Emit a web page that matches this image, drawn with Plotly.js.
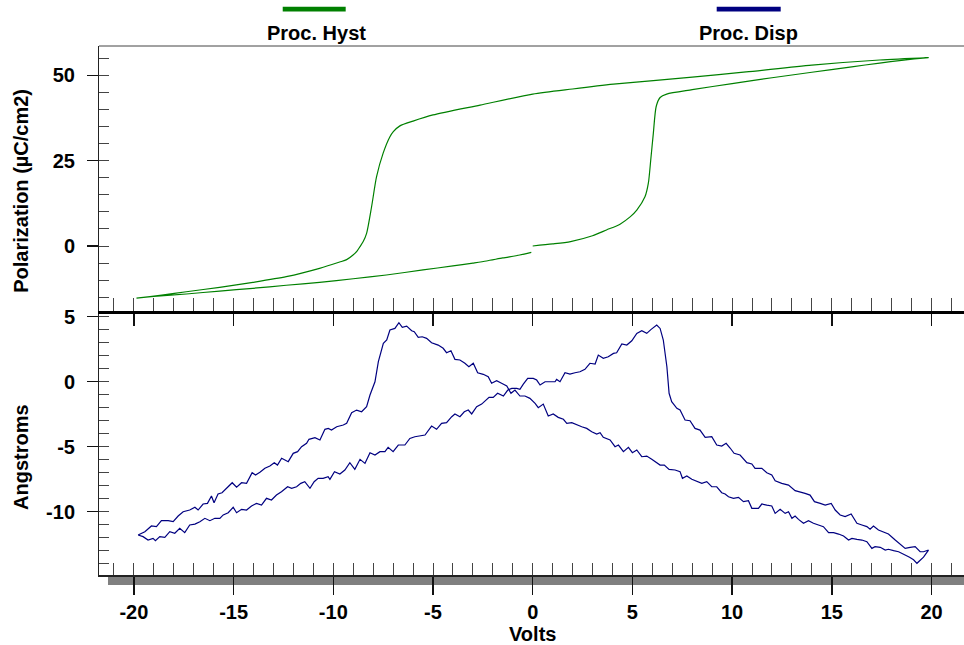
<!DOCTYPE html>
<html>
<head>
<meta charset="utf-8">
<script src="https://cdn.plot.ly/plotly-3.0.1.min.js"></script>
<style>html,body{margin:0;padding:0;background:#fff;}#chart{width:964px;height:645px;}</style>
</head>
<body>
<div id="chart"></div>
<script>
// ---- Polarization (Proc. Hyst) : 0 -> +20 -> -20 -> 0 ----
const hystUpV   = [0, 1, 1.9, 3, 3.7, 4.38, 4.9, 5.22, 5.63, 5.8, 5.92, 6.05, 6.19, 6.39, 6.72, 8, 10, 12, 14, 16, 17.4, 18.5, 19.85];
const hystUpP   = [0, 0.6, 1.3, 3.0, 4.7, 6.4, 8.6, 10.5, 14.4, 18.4, 25.2, 33, 40.8, 43.5, 44.5, 45.8, 47.6, 49.3, 50.9, 52.5, 53.6, 54.4, 55.2];
const hystDownV = [19.85, 17.4, 14, 10.7, 8, 4.05, 2, 0, -2.64, -5, -6, -6.66, -6.99, -7.16, -7.5, -7.83, -8.08, -8.33, -8.5, -8.65, -8.8, -9.01, -9.33, -9.68, -10.69, -12.36, -14.03, -15.7, -17.37, -18.6, -19.87];
const hystDownP = [55.2, 54.5, 53, 51, 49.5, 47.4, 46, 44.5, 41.3, 38.4, 36.6, 35.2, 33.5, 32, 27.2, 20.3, 11.5, 3.7, 1.3, -0.1, -1.4, -2.64, -4.0, -4.7, -6.55, -8.99, -10.65, -12.1, -13.4, -14.4, -15.3];
const hystBackV = [-19.87, -19.0, -17.37, -15.7, -14.03, -12.36, -10.69, -9, -7.34, -5.5, -4.0, -3, -2.32, -1.5, -0.65, -0.07];
const hystBackP = [-15.3, -14.8, -14.06, -13.2, -12.4, -11.5, -10.65, -9.6, -8.5, -7.0, -5.85, -5.0, -4.4, -3.5, -2.64, -1.85];

// ---- Displacement (Proc. Disp) : sweep up (-20 -> +20) ----
const dispUpV = [-19.79,-19.54,-19.29,-19.04,-18.92,-18.7,-18.45,-18.2,-17.95,-17.7,-17.45,-17.2,-16.94,-16.69,-16.44,-16.19,-15.94,-15.69,-15.52,-15.27,-15.02,-14.85,-14.6,-14.35,-14.1,-13.85,-13.6,-13.35,-13.1,-12.85,-12.6,-12.29,-12.09,-11.84,-11.63,-11.43,-11.17,-10.96,-10.76,-10.51,-10.26,-10.17,-9.94,-9.67,-9.42,-9.17,-8.92,-8.66,-8.41,-8.16,-7.91,-7.66,-7.41,-7.25,-7.0,-6.74,-6.41,-6.16,-5.91,-5.65,-5.4,-5.07,-4.82,-4.57,-4.32,-4.06,-3.9,-3.65,-3.43,-3.23,-3.06,-2.81,-2.56,-2.19,-1.98,-1.76,-1.47,-1.25,-1.05,-0.8,-0.64,-0.47,-0.25,0.03,0.2,0.37,0.62,0.87,1.12,1.2,1.37,1.62,1.87,2.12,2.37,2.62,2.87,3.13,3.29,3.54,3.79,4.05,4.21,4.47,4.72,4.97,5.22,5.47,5.72,5.94,6.22,6.39,6.55,6.73,6.84,6.97,7.23,7.39,7.64,7.89,8.14,8.39,8.65,8.98,9.23,9.48,9.7,9.9,10.1,10.4,10.74,10.99,11.15,11.49,11.74,11.99,12.16,12.49,12.83,13.16,13.41,13.66,13.91,14.13,14.42,14.67,14.97,15.17,15.42,15.67,15.97,16.26,16.51,16.76,16.92,17.09,17.34,17.59,17.84,18.18,18.43,18.68,18.93,19.18,19.43,19.6,19.85];
const dispUpD = [-11.79,-11.92,-12.18,-12.05,-12.23,-11.92,-11.97,-11.54,-11.66,-11.28,-11.61,-11.02,-10.95,-10.77,-10.51,-10.69,-10.51,-10.51,-10.25,-10.08,-9.66,-10.08,-9.82,-9.87,-9.56,-9.36,-9.49,-8.97,-9.1,-8.72,-8.46,-8.08,-8.2,-8.08,-7.82,-7.69,-8.2,-7.69,-7.43,-7.43,-7.31,-7.51,-6.92,-7.1,-6.79,-6.23,-6.74,-5.97,-6.28,-5.46,-5.64,-5.38,-5.38,-5.05,-5.38,-4.87,-4.87,-4.36,-4.23,-4.18,-4.1,-3.41,-3.66,-3.2,-3.15,-2.69,-2.48,-2.69,-2.31,-2.18,-2.48,-1.92,-1.72,-1.2,-1.2,-0.89,-1.1,-0.64,-0.51,-0.51,-0.59,-0.18,0.26,0.26,0.13,-0.25,0,0,0,0.18,0,0.69,0.59,0.69,0.77,0.95,1.42,1.36,2.05,1.8,1.92,2.18,2.23,2.9,2.82,3.15,3.72,3.92,3.72,4.03,4.36,4.1,3.21,1.15,-0.89,-1.54,-2.05,-2.18,-2.95,-3.0,-3.59,-3.72,-4.28,-4.23,-4.87,-4.95,-4.74,-5.1,-5.51,-5.64,-6.23,-6.33,-6.66,-6.66,-7.0,-7.18,-7.62,-7.82,-7.95,-8.38,-8.46,-8.59,-8.72,-9.23,-9.36,-9.49,-9.36,-9.87,-10.25,-10.38,-10.18,-10.89,-11.02,-11.15,-11.35,-11.1,-11.41,-11.54,-11.72,-12.18,-12.48,-12.82,-12.74,-12.69,-13.08,-13.08,-12.95];

// ---- Displacement : sweep down (+20 -> -20) ----
const dispDownV = [19.85,19.6,19.27,19.1,18.9,18.77,18.52,18.35,18.1,17.84,17.68,17.43,17.17,17.01,16.76,16.51,16.26,16.01,15.84,15.59,15.34,15.09,14.84,14.58,14.33,14.08,13.83,13.58,13.33,13.16,13.0,12.83,12.66,12.41,12.16,11.99,11.74,11.49,11.32,10.99,10.82,10.57,10.32,10.07,9.82,9.65,9.48,9.23,8.98,8.73,8.48,8.23,7.98,7.73,7.51,7.39,7.14,6.84,6.6,6.39,6.17,5.97,5.72,5.47,5.22,5.0,4.8,4.55,4.3,4.13,3.88,3.54,3.38,3.21,2.96,2.71,2.46,2.21,1.96,1.71,1.54,1.28,1.03,0.78,0.53,0.28,0.12,-0.14,-0.39,-0.64,-0.89,-1.09,-1.3,-1.56,-1.81,-2.06,-2.23,-2.48,-2.76,-2.98,-3.2,-3.4,-3.65,-3.9,-4.1,-4.32,-4.49,-4.74,-5.07,-5.32,-5.54,-5.74,-5.94,-6.07,-6.32,-6.54,-6.71,-6.91,-7.16,-7.32,-7.49,-7.74,-7.91,-8.16,-8.33,-8.58,-8.83,-9.08,-9.33,-9.5,-9.83,-10.09,-10.25,-10.42,-10.67,-10.92,-11.22,-11.34,-11.59,-11.79,-12.01,-12.26,-12.59,-12.8,-12.96,-13.18,-13.43,-13.68,-13.9,-14.07,-14.35,-14.6,-14.85,-15.07,-15.36,-15.58,-15.78,-15.98,-16.11,-16.31,-16.53,-16.78,-16.94,-17.2,-17.53,-17.78,-18.03,-18.28,-18.62,-18.87,-19.12,-19.45,-19.79];
const dispDownD = [-12.95,-13.5,-13.97,-13.7,-13.51,-13.41,-13.2,-13.08,-13.0,-12.89,-12.95,-12.74,-12.69,-12.82,-12.31,-12.18,-12.13,-12.05,-12.18,-11.87,-11.72,-11.61,-11.61,-11.15,-11.02,-10.89,-10.69,-10.89,-10.59,-10.33,-10.51,-10.0,-10.13,-9.82,-10.13,-9.56,-9.49,-9.41,-9.74,-9.74,-9.15,-9.23,-8.9,-8.97,-8.85,-8.64,-8.54,-8.08,-8.08,-7.69,-7.82,-7.69,-7.51,-7.25,-7.43,-6.92,-6.79,-6.74,-6.41,-6.41,-6.15,-5.97,-5.72,-5.77,-5.25,-5.46,-5.05,-5.38,-4.87,-5.0,-4.48,-4.28,-3.92,-4.02,-3.85,-3.59,-3.46,-3.33,-3.15,-3.2,-2.89,-2.74,-2.48,-2.64,-1.72,-2.0,-1.66,-1.28,-1.1,-1.1,-0.64,-0.89,-0.33,-0.12,0.08,-0.12,0.38,0.57,0.69,1.42,1.15,1.42,1.67,1.72,2.38,2.23,2.57,2.82,3.0,3.34,3.46,3.41,3.85,3.92,4.28,4.18,4.54,4.1,3.98,3.21,2.95,1.54,0,-1.02,-1.92,-2.31,-2.18,-2.38,-3.2,-3.33,-3.46,-3.72,-3.59,-3.66,-4.48,-4.31,-4.43,-4.74,-5.0,-5.38,-5.51,-6.15,-5.89,-6.41,-6.23,-6.48,-6.66,-6.97,-7.18,-7.0,-7.82,-7.77,-8.12,-7.77,-8.2,-8.54,-8.64,-9.31,-8.79,-9.36,-9.41,-9.87,-9.66,-9.87,-10.0,-10.33,-10.77,-10.69,-10.69,-11.15,-11.1,-11.54,-11.79];

// ---- Axis ticks / labels ----
const voltTicks = [-20, -15, -10, -5, 0, 5, 10, 15, 20];
const voltLabels = ['-20', '-15', '-10', '-5', '0', '5', '10', '15', '20'];
const polTicks = [0, 25, 50];
const polLabels = ['0', '25', '50'];
const angTicks = [-10, -5, 0, 5];
const angLabels = ['-10', '-5', '0', '5'];
const seriesNames = ['Proc. Hyst', 'Proc. Disp'];
const seriesColors = ['#008000', '#000080'];

const xRange = [-21.75, 21.63];
const polRange = [-18.9, 58.6];
const angRange = [-14.87, 5.48];

const FONT = 'Liberation Sans, Arial, Helvetica, sans-serif';
const tickFont = {family: FONT, size: 20, color: '#000', weight: 700};

const hystTrace = {
  x: hystUpV.concat(hystDownV, hystBackV),
  y: hystUpP.concat(hystDownP, hystBackP),
  xaxis: 'x2', yaxis: 'y', type: 'scatter', mode: 'lines',
  line: {color: seriesColors[0], width: 1.2, shape: 'spline', smoothing: 0.7}, name: seriesNames[0], showlegend: false, hoverinfo: 'skip'
};
const dispTrace = {
  x: dispUpV.concat(dispDownV),
  y: dispUpD.concat(dispDownD),
  xaxis: 'x', yaxis: 'y2', type: 'scatter', mode: 'lines',
  line: {color: seriesColors[1], width: 1.2}, name: seriesNames[1], showlegend: false, hoverinfo: 'skip'
};

const noGrid = {showgrid: false, zeroline: false};
const minorX = {ticks: 'inside', tickmode: 'linear', tick0: 0, dtick: 1, ticklen: 12, tickwidth: 1, tickcolor: '#444', showgrid: false};

const layout = {
  width: 964, height: 645,
  margin: {l: 99, r: 0, t: 46, b: 70, pad: 0},
  paper_bgcolor: '#fff', plot_bgcolor: 'rgba(0,0,0,0)',
  showlegend: false,
  xaxis: Object.assign({}, noGrid, {
    anchor: 'y2', range: xRange, domain: [0, 1],
    showline: true, linecolor: '#222', linewidth: 1.5,
    ticks: 'outside', ticklen: 18, tickwidth: 1.5, tickcolor: '#111',
    tickmode: 'array', tickvals: voltTicks, ticktext: voltLabels,
    tickfont: tickFont, ticklabelstandoff: 0,
    minor: minorX
  }),
  xaxis2: Object.assign({}, noGrid, {
    anchor: 'y', range: xRange, domain: [0, 1],
    showline: true, linecolor: '#000', linewidth: 3.5,
    ticks: 'outside', ticklen: 12, tickwidth: 1.5, tickcolor: '#111',
    tickmode: 'linear', tick0: 0, dtick: 5, showticklabels: false,
    minor: Object.assign({}, minorX, {ticklen: 13})
  }),
  xaxis3: Object.assign({}, noGrid, {
    overlaying: 'x', anchor: 'y2', side: 'bottom', range: xRange,
    showline: false, ticks: 'inside', ticklen: 12, tickwidth: 1.5, tickcolor: '#111',
    tickmode: 'linear', tick0: 0, dtick: 5, showticklabels: false
  }),
  xaxis4: Object.assign({}, noGrid, {
    overlaying: 'x2', anchor: 'y', side: 'bottom', range: xRange,
    showline: false, ticks: 'inside', ticklen: 13, tickwidth: 1.5, tickcolor: '#111',
    tickmode: 'linear', tick0: 0, dtick: 5, showticklabels: false
  }),
  yaxis: Object.assign({}, noGrid, {
    anchor: 'x2', domain: [0.5, 1], range: polRange,
    showline: true, linecolor: '#222', linewidth: 1,
    ticks: 'outside', ticklen: 11, tickwidth: 1.5, tickcolor: '#111',
    tickmode: 'array', tickvals: polTicks, ticktext: polLabels,
    tickfont: tickFont, ticklabelstandoff: 8,
    minor: {ticks: 'inside', tickmode: 'linear', tick0: 0, dtick: 5, ticklen: 10, tickwidth: 1, tickcolor: '#444', showgrid: false}
  }),
  yaxis2: Object.assign({}, noGrid, {
    anchor: 'x', domain: [0, 0.5], range: angRange,
    showline: true, linecolor: '#222', linewidth: 1,
    ticks: 'outside', ticklen: 11, tickwidth: 1.5, tickcolor: '#111',
    tickmode: 'array', tickvals: angTicks, ticktext: angLabels,
    tickfont: tickFont, ticklabelstandoff: 8,
    minor: {ticks: 'inside', tickmode: 'linear', tick0: 0, dtick: 1, ticklen: 10, tickwidth: 1, tickcolor: '#444', showgrid: false}
  }),
  yaxis3: Object.assign({}, noGrid, {
    overlaying: 'y', anchor: 'x2', side: 'left', range: polRange,
    showline: false, ticks: 'inside', ticklen: 10, tickwidth: 1.5, tickcolor: '#111',
    tickmode: 'linear', tick0: 0, dtick: 25, showticklabels: false
  }),
  yaxis4: Object.assign({}, noGrid, {
    overlaying: 'y2', anchor: 'x', side: 'left', range: angRange,
    showline: false, ticks: 'inside', ticklen: 10, tickwidth: 1.5, tickcolor: '#111',
    tickmode: 'linear', tick0: 0, dtick: 5, showticklabels: false
  }),
  shapes: [
    {type: 'line', xref: 'paper', yref: 'paper', x0: 0, x1: 1, y0: 1, y1: 1, line: {color: '#444', width: 1}},
    {type: 'rect', xref: 'paper', yref: 'paper', x0: 0.0104, x1: 1, y0: -0.0189, y1: -0.0025, fillcolor: '#808080', line: {width: 0}, layer: 'below'},
    {type: 'rect', xref: 'paper', yref: 'paper', x0: 0.2124, x1: 0.2852, y0: 1.0654, y1: 1.0743, fillcolor: seriesColors[0], line: {width: 0}},
    {type: 'rect', xref: 'paper', yref: 'paper', x0: 0.7141, x1: 0.7881, y0: 1.0654, y1: 1.0743, fillcolor: seriesColors[1], line: {width: 0}}
  ],
  annotations: [
    {text: seriesNames[0], xref: 'paper', yref: 'paper', x: 0.2517, y: 1.0252, xanchor: 'center', yanchor: 'middle', showarrow: false, font: {family: FONT, size: 20, color: '#000', weight: 700}},
    {text: seriesNames[1], xref: 'paper', yref: 'paper', x: 0.7514, y: 1.0252, xanchor: 'center', yanchor: 'middle', showarrow: false, font: {family: FONT, size: 20, color: '#000', weight: 700}},
    {text: 'Polarization (µC/cm2)', xref: 'paper', yref: 'paper', x: -0.0902, y: 0.7263, xanchor: 'center', yanchor: 'middle', textangle: -90, showarrow: false, font: {family: FONT, size: 20, color: '#000', weight: 700}},
    {text: 'Angstroms', xref: 'paper', yref: 'paper', x: -0.0902, y: 0.2232, xanchor: 'center', yanchor: 'middle', textangle: -90, showarrow: false, font: {family: FONT, size: 20, color: '#000', weight: 700}},
    {text: 'Volts', xref: 'paper', yref: 'paper', x: 0.5014, y: -0.1115, xanchor: 'center', yanchor: 'middle', showarrow: false, font: {family: FONT, size: 20, color: '#000', weight: 700}}
  ]
};

Plotly.newPlot('chart', [hystTrace, dispTrace], layout, {staticPlot: true, displayModeBar: false});
</script>
</body>
</html>
